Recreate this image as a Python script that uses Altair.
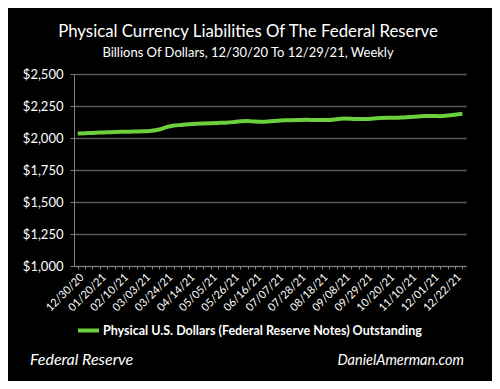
import altair as alt
import pandas as pd

# Weekly category labels, 12/30/20 .. 12/29/21 (53 weeks)
weeks = [d.strftime("%m/%d/%y") for d in pd.date_range("2020-12-30", periods=53, freq="7D")]

# Billions of dollars
values = [
    2036, 2038, 2040, 2043, 2044, 2046, 2048, 2049, 2051, 2053,
    2056, 2066, 2085, 2097, 2102, 2107, 2111, 2114, 2116, 2118,
    2120, 2124, 2130, 2132, 2128, 2126, 2130, 2135, 2138, 2139,
    2141, 2142, 2141, 2140, 2140, 2147, 2152, 2150, 2148, 2148,
    2152, 2157, 2158, 2158, 2161, 2165, 2168, 2172, 2172, 2170,
    2176, 2182, 2189,
]

shown_labels = weeks[::3]
y_ticks = [1000, 1250, 1500, 1750, 2000, 2250, 2500]
series_name = "Physical U.S. Dollars (Federal Reserve Notes) Outstanding"
title_text = "Physical Currency Liabilities Of The Federal Reserve"
subtitle_text = "Billions Of Dollars, 12/30/20 To 12/29/21, Weekly"
source_left = ["Federal Reserve"]
source_right = ["DanielAmerman.com"]

FONT = "Lato"
GREEN = "#6ccf3e"

df = pd.DataFrame({"week": weeks, "value": values, "series": series_name})
label_array = "[" + ",".join("'" + w + "'" for w in shown_labels) + "]"

line = alt.Chart(df).mark_line(strokeWidth=4, interpolate="monotone").encode(
    x=alt.X(
        "week:O",
        sort=None,
        scale=alt.Scale(type="point", padding=0.5),
        axis=alt.Axis(
            title=None,
            labelAngle=-45,
            labelAlign="right",
            labelBaseline="top",
            labelOverlap=False,
            labelExpr="indexof(" + label_array + ", datum.value) >= 0 ? datum.value : ''",
            labelFontSize=11,
            labelPadding=2,
            tickSize=3,
            grid=False,
        ),
    ),
    y=alt.Y(
        "value:Q",
        scale=alt.Scale(domain=[1000, 2500], nice=False, zero=False),
        axis=alt.Axis(
            title=None,
            values=y_ticks,
            format="$,.0f",
            labelFontSize=13,
            labelPadding=7,
            tickSize=4,
            grid=True,
        ),
    ),
    color=alt.Color(
        "series:N",
        scale=alt.Scale(range=[GREEN]),
        legend=alt.Legend(
            title=None,
            orient="none",
            legendX=2,
            legendY=244,
            symbolType="stroke",
            symbolStrokeWidth=4,
            symbolSize=441,
            labelFontSize=12.5,
            labelFontWeight="bold",
            labelColor="white",
            labelFont=FONT,
            labelOffset=2,
            labelLimit=500,
        ),
    ),
)

left_txt = alt.Chart(pd.DataFrame({"t": source_left})).mark_text(
    align="left", baseline="alphabetic", fontSize=16, fontStyle="italic", color="white", font=FONT
).encode(text="t:N", x=alt.value(-44), y=alt.value(291))

right_txt = alt.Chart(pd.DataFrame({"t": source_right})).mark_text(
    align="right", baseline="alphabetic", fontSize=14.5, fontStyle="italic", color="white", font=FONT
).encode(text="t:N", x=alt.value(390), y=alt.value(291))

chart = alt.layer(line, left_txt, right_txt).properties(
    width=392,
    height=192,
    autosize=alt.AutoSizeParams(type="none"),
    padding={"left": 66, "top": 66, "right": 26, "bottom": 115},
    background="black",
    title=alt.TitleParams(
        text=title_text,
        subtitle=subtitle_text,
        anchor="middle",
        dx=-22,
        fontSize=16.8,
        fontWeight="normal",
        subtitleFontSize=13,
        color="white",
        subtitleColor="white",
        font=FONT,
        subtitleFont=FONT,
        offset=8,
        subtitlePadding=6,
    ),
).configure_view(stroke=None).configure_axis(
    labelColor="white",
    labelFont=FONT,
    domainColor="#808080",
    tickColor="#808080",
    gridColor="#595959",
    gridWidth=1.5,
    domainWidth=1,
)

chart.save("out.html", embed_options={"renderer": "svg", "actions": False})
